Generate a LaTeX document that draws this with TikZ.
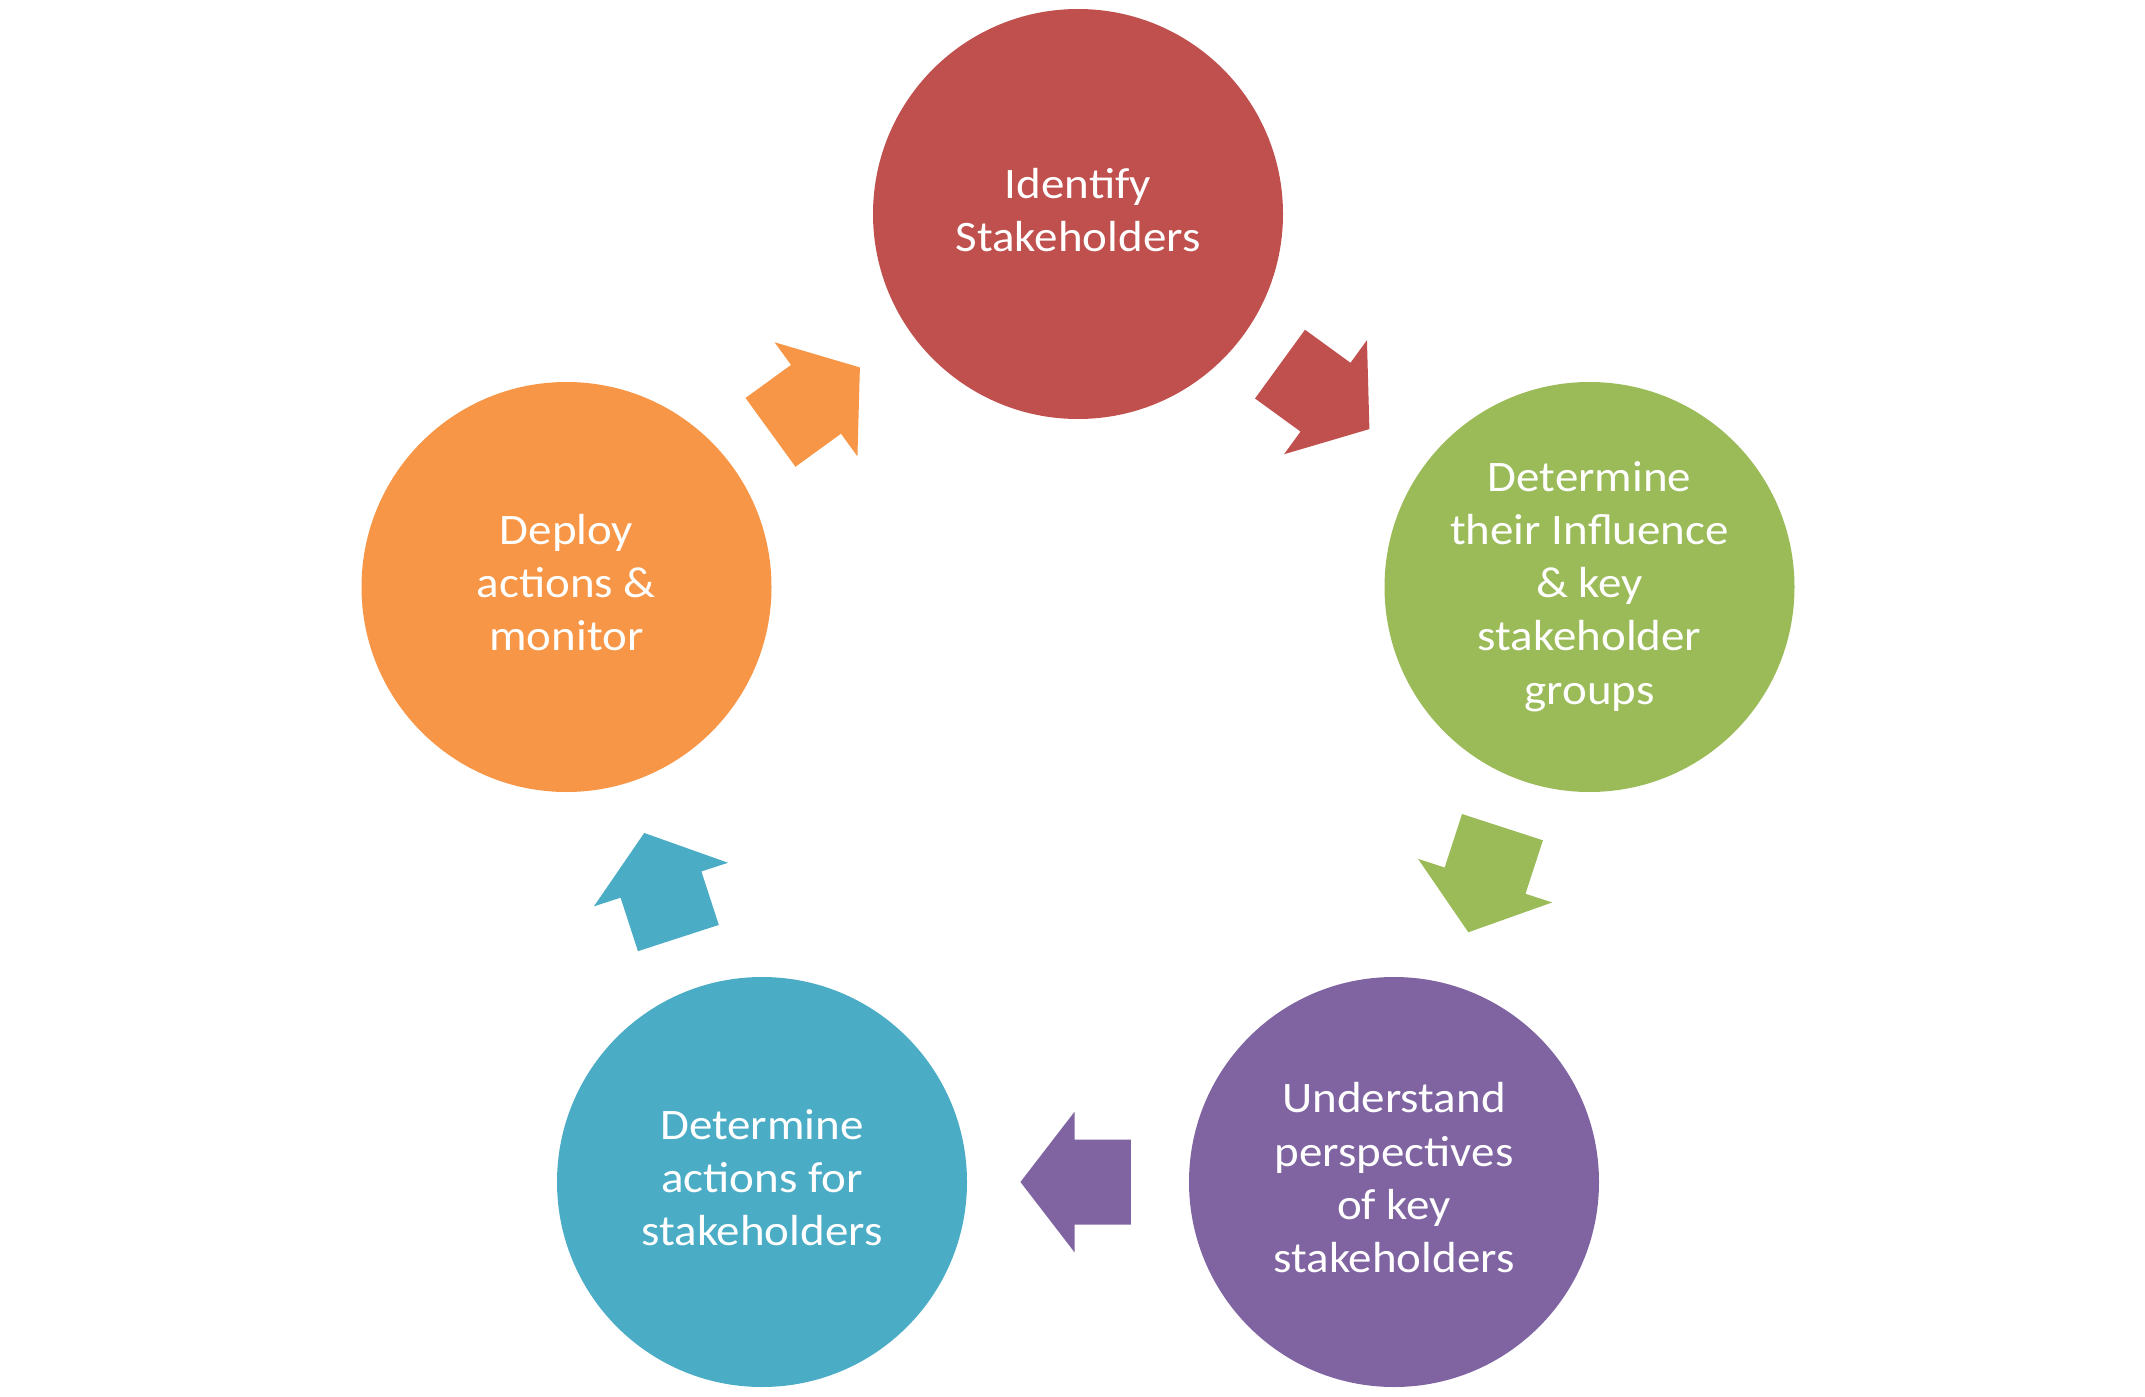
\documentclass[tikz,border=0pt]{standalone}
\usepackage{fontspec}
\setmainfont{Carlito}[FakeStretch=1.08]
\definecolor{cred}{HTML}{C0504D}
\definecolor{cgreen}{HTML}{9BBB59}
\definecolor{cpurple}{HTML}{8064A2}
\definecolor{cteal}{HTML}{4BACC6}
\definecolor{corange}{HTML}{F79646}
\tikzset{
  stage/.style={circle, fill=#1, minimum size=410pt, inner sep=0pt, text=white,
    font=\fontsize{43.5}{53.3}\selectfont},
  blockarrow/.pic={
    \fill[#1] (-55.25,-42.5) -- (1,-42.5) -- (1,-70.5) -- (55.25,0) -- (1,70.5)
      -- (1,42.5) -- (-55.25,42.5) -- cycle;
  }
}
\newcommand{\lines}[1]{\begin{tabular}{@{}c@{}}#1\end{tabular}}
\begin{document}
\begin{tikzpicture}[x=1pt,y=-1pt]
\useasboundingbox (0,0) rectangle (2145,1397);
\node[stage=cred] (identify) at (1078,214) {\lines{Identify\\Stakeholders}};
\node[stage=cgreen] (influence) at (1589.5,587) {\lines{Determine\\their Influence\\\& key\\stakeholder\\groups}};
\node[stage=cpurple] (understand) at (1394,1182) {\lines{Understand\\perspectives\\of key\\stakeholders}};
\node[stage=cteal] (actions) at (762,1182) {\lines{Determine\\actions for\\stakeholders}};
\node[stage=corange] (deploy) at (566.5,587) {\lines{Deploy\\actions \&\\monitor}};
\pic[rotate=-36] at (1324.7,396.6) {blockarrow=cred};
\pic[rotate=-108] at (1485.4,879.7) {blockarrow=cgreen};
\pic[rotate=180] at (1075.7,1182) {blockarrow=cpurple};
\pic[rotate=108] at (661.3,885.5) {blockarrow=cteal};
\pic[rotate=36] at (815.2,399.9) {blockarrow=corange};
\end{tikzpicture}
\end{document}
